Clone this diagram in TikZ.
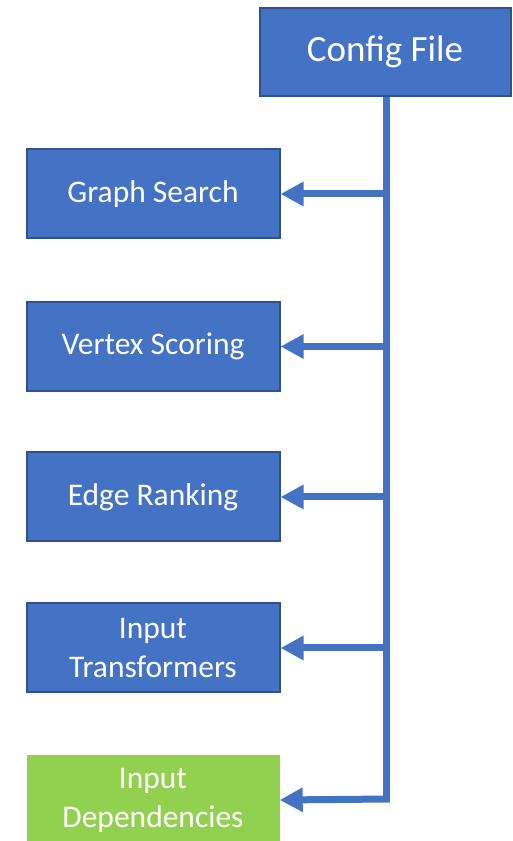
\documentclass[tikz,border=0pt]{standalone}
\usepackage{fontspec}
\setmainfont{Carlito}
\usetikzlibrary{arrows.meta}
\definecolor{boxblue}{HTML}{4472C4}
\definecolor{boxedge}{HTML}{2F528F}
\definecolor{boxgreen}{HTML}{92D050}
\begin{document}
\begin{tikzpicture}[x=1pt,y=1pt,
  module/.style={minimum width=253pt,minimum height=89pt,inner sep=0pt,
    align=center,text=white,font=\fontsize{31.5}{39}\selectfont},
  bluebox/.style={module,fill=boxblue,draw=boxedge,line width=2pt},
  greenbox/.style={module,fill=boxgreen},
  feed/.style={draw=boxblue,line width=7pt},
  feedarrow/.style={feed,-{Triangle[length=23pt,width=23pt]}}]
\useasboundingbox (0,0) rectangle (513,841);
% source node
\node[bluebox,minimum width=251pt,minimum height=88pt,
  font=\fontsize{37}{44}\selectfont] (cfg) at (385,789) {Config File};
% modules configured by the file
\node[bluebox] (gs) at (153,647) {Graph Search};
\node[bluebox] (vs) at (153,494.5) {Vertex Scoring};
\node[bluebox] (er) at (153,344) {Edge Ranking};
\node[bluebox] (it) at (153,193) {Input\\Transformers};
\node[greenbox] (id) at (153,41) {Input\\Dependencies};
% distribution bus
\coordinate (b1) at (386,647);
\coordinate (b2) at (386,494.5);
\coordinate (b3) at (386,344);
\coordinate (b4) at (386,193);
\coordinate (b5) at (386,42);
\draw[feed] (cfg.south -| b1) -- ([yshift=-3.5pt]b5);
\draw[feedarrow] (b1) -- (gs.east);
\draw[feedarrow] (b2) -- (vs.east);
\draw[feedarrow] (b3) -- (er.east);
\draw[feedarrow] (b4) -- (it.east);
\draw[feedarrow] ([xshift=3.5pt]b5) -- (id.east);
\end{tikzpicture}
\end{document}
